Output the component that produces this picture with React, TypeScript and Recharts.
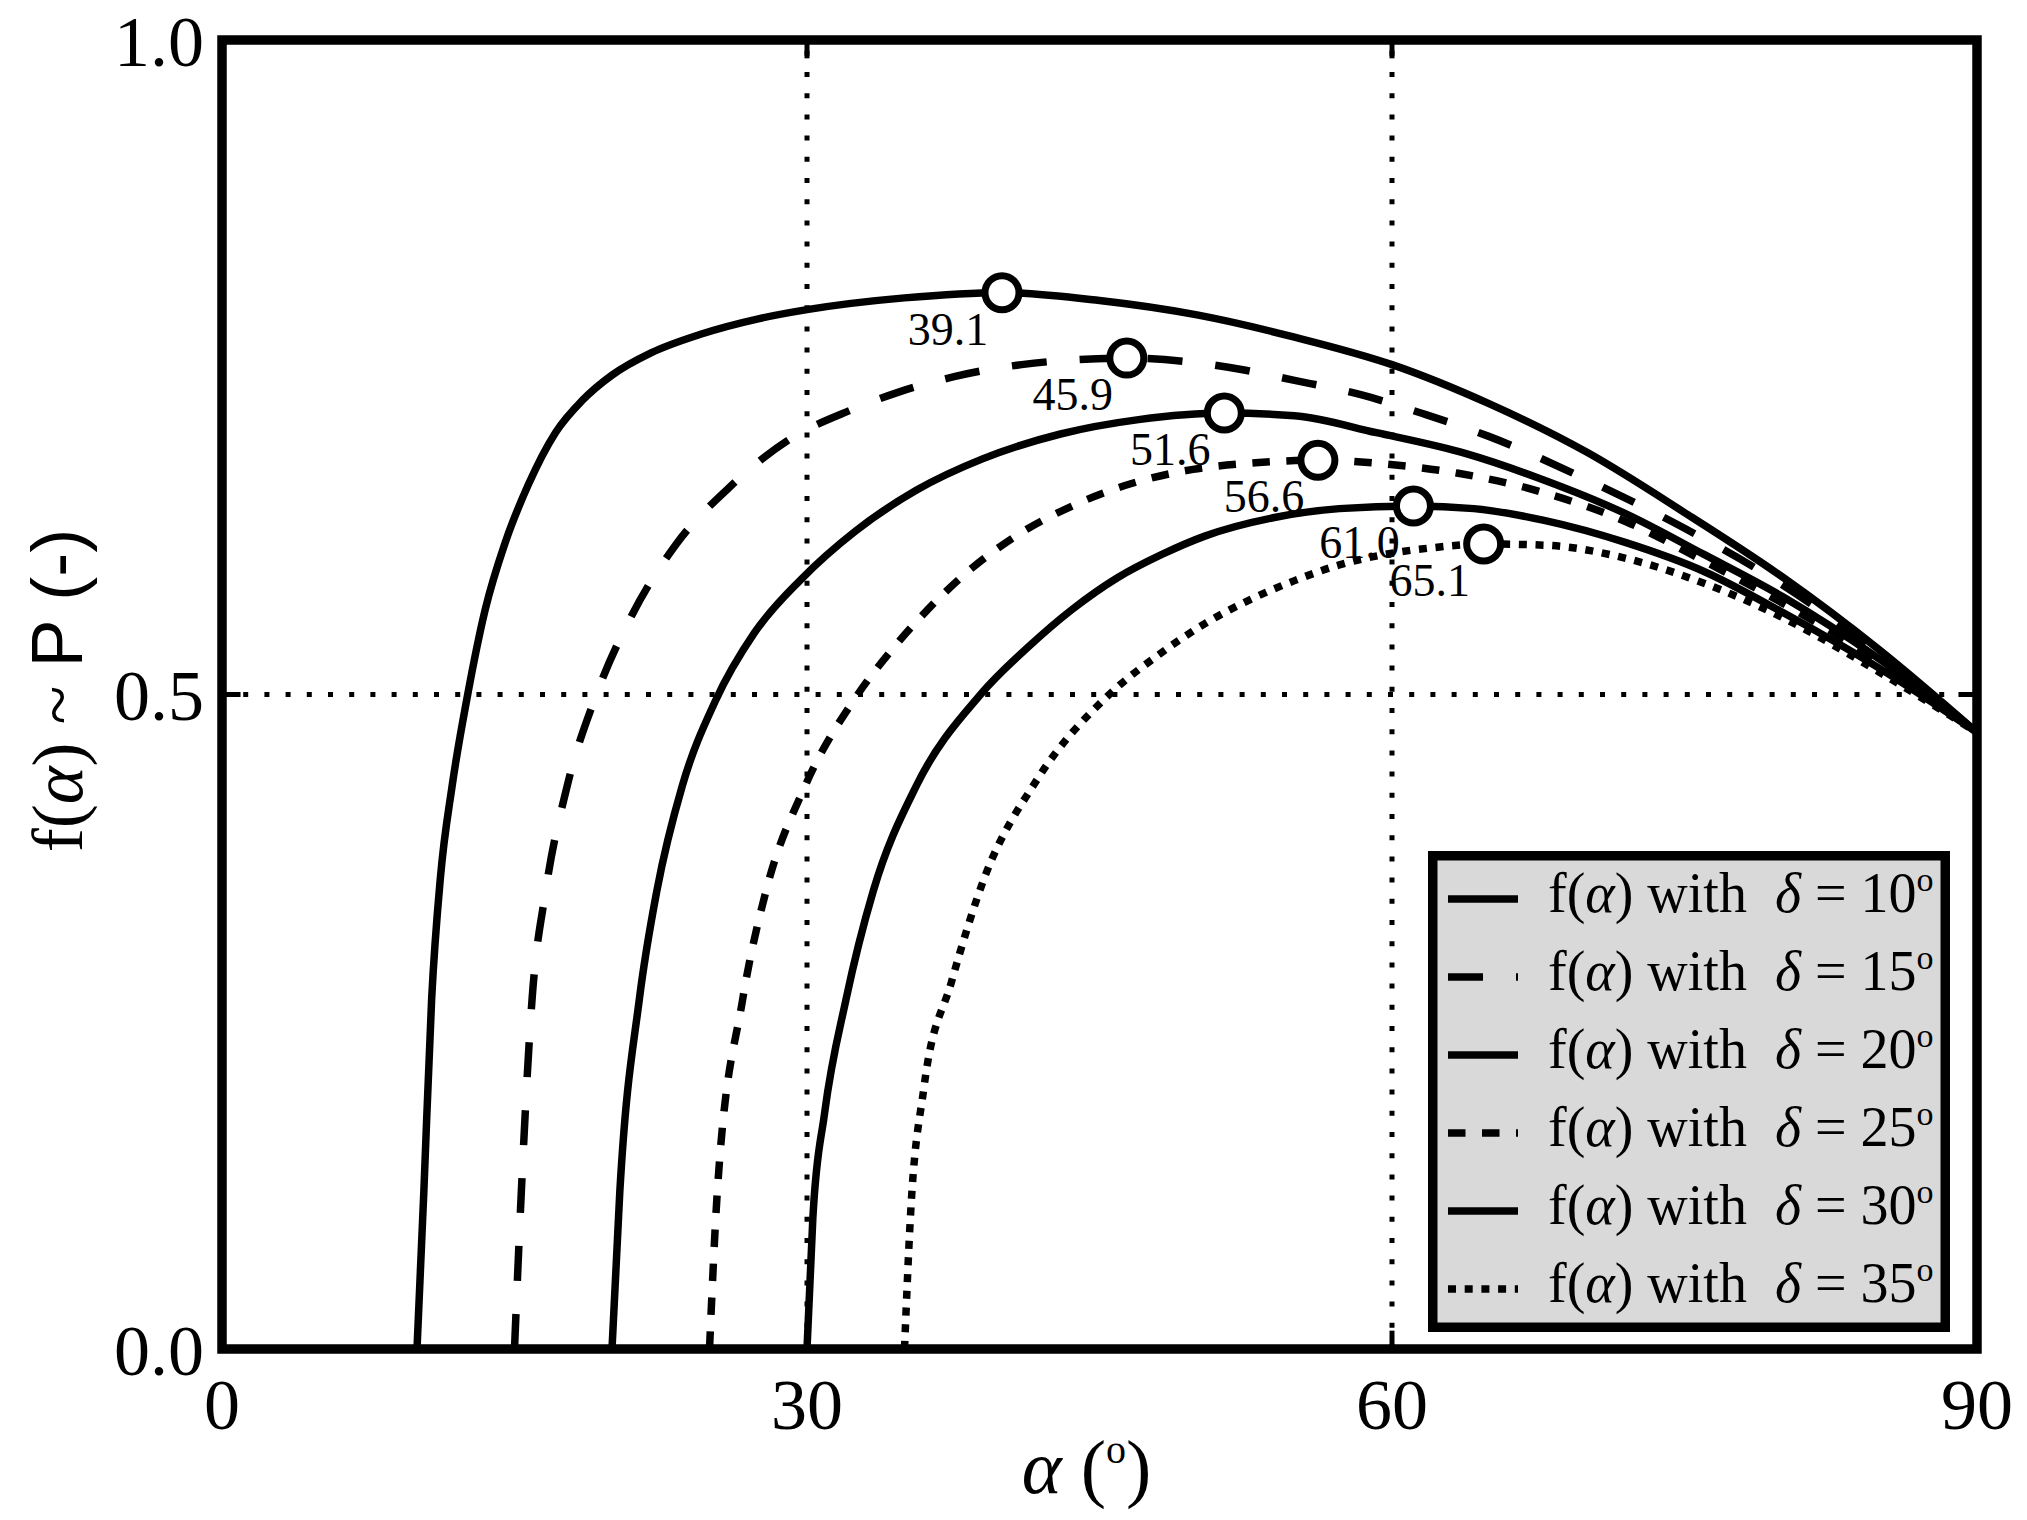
import React from 'react';
import {
  ComposedChart,
  Line,
  Scatter,
  XAxis,
  YAxis,
  ReferenceLine,
  ReferenceArea,
  Legend,
  Label,
} from 'recharts';

const SERIF = '"Liberation Serif", "Times New Roman", serif';
const SANS = '"Liberation Sans", Arial, sans-serif';

// [alpha (deg), f(alpha)], one list per delta
const curve10 = [
  [10, 0], [10.35, 0.12], [10.75, 0.267], [11.2, 0.36], [11.8, 0.43], [12.6, 0.5],
  [13.5, 0.565], [14.5, 0.615], [15.7, 0.66], [17.1, 0.7], [18.5, 0.725], [20, 0.744],
  [22, 0.761], [24.5, 0.775], [27.5, 0.787], [30, 0.794], [35, 0.803], [40, 0.807],
  [45, 0.801], [50, 0.79], [55, 0.773], [60, 0.752], [65, 0.722], [70, 0.685],
  [75, 0.639], [80, 0.59], [85, 0.534], [90, 0.471],
];
const curve15 = [
  [15, 0], [15.35, 0.12], [15.9, 0.267], [16.6, 0.35], [17.7, 0.43], [19.2, 0.5],
  [21, 0.56], [23.3, 0.615], [26, 0.658], [29, 0.694], [32.2, 0.717], [34.7, 0.731],
  [37.6, 0.743], [41, 0.752], [46.4, 0.757], [51.6, 0.75], [55, 0.74], [58.4, 0.729],
  [61.7, 0.714], [65, 0.697], [70, 0.664], [75, 0.627], [80, 0.584], [85, 0.531],
  [90, 0.471],
];
const curve20 = [
  [20, 0], [20.4, 0.12], [21.4, 0.267], [22.3, 0.35], [23.6, 0.43], [25.3, 0.495],
  [27.3, 0.547], [29.7, 0.588], [32.5, 0.625], [35.6, 0.656], [39, 0.68], [43, 0.699],
  [47, 0.71], [51.4, 0.715], [55, 0.713], [59.2, 0.7], [63.8, 0.684], [67.4, 0.666],
  [72, 0.638], [76, 0.607], [80, 0.575], [85, 0.527], [90, 0.471],
];
const curve25 = [
  [25, 0], [25.4, 0.12], [26.7, 0.267], [27.9, 0.35], [29.9, 0.43], [32.6, 0.5],
  [34.4, 0.535], [36.2, 0.565], [38.1, 0.592], [40.6, 0.62], [43.6, 0.644], [46.6, 0.661],
  [49.8, 0.672], [53, 0.677], [56.2, 0.679], [59.7, 0.676], [63.4, 0.669], [67.6, 0.655],
  [72, 0.632], [76, 0.602], [80, 0.57], [85, 0.525], [90, 0.471],
];
const curve30 = [
  [30, 0], [30.3, 0.1], [30.9, 0.18], [32, 0.267], [33.4, 0.35], [35.6, 0.43],
  [38.9, 0.5], [41.4, 0.537], [43.6, 0.565], [45.9, 0.589], [48.2, 0.607], [50.4, 0.621],
  [53.9, 0.635], [57.3, 0.642], [61.1, 0.644], [64.2, 0.642], [67.8, 0.633], [72, 0.616],
  [76, 0.594], [80, 0.563], [85, 0.52], [90, 0.471],
];
const curve35 = [
  [35, 0], [35.3, 0.1], [36, 0.2], [37.4, 0.28], [39.1, 0.36], [41.8, 0.435],
  [45.5, 0.5], [48, 0.53], [50.5, 0.555], [52.8, 0.573], [55, 0.587], [57.3, 0.599],
  [60, 0.608], [62, 0.612], [64.7, 0.615], [67.9, 0.614], [72, 0.604], [76, 0.585],
  [80, 0.559], [85, 0.517], [90, 0.471],
];

const deltas = [10, 15, 20, 25, 30, 35];
const curves = [curve10, curve15, curve20, curve25, curve30, curve35];
const dashes = [undefined, '35 33', undefined, '17.5 16.5', undefined, '8 8.7'];

// maxima marked with circles
const peakAlpha = [40.0, 46.4, 51.4, 56.2, 61.1, 64.7];
const peakValue = [0.807, 0.757, 0.715, 0.679, 0.644, 0.615];
const peakLabels = ['39.1', '45.9', '51.6', '56.6', '61.0', '65.1'];

const xTicks = [0, 30, 60, 90];
const yTicks = [0, 0.5, 1];

const series = curves.map((pts, i) => ({
  key: `d${deltas[i]}`,
  delta: deltas[i],
  dash: dashes[i],
  data: pts.map(([a, f]) => ({ a, f })),
}));

const peaks = peakAlpha.map((a, i) => ({ a, f: peakValue[i], label: peakLabels[i] }));

const LINE_W = 7.5;
const GRID_DASH = '5 16.2';

const PeakMarker = (props: any) => {
  const { cx, cy, payload } = props;
  return (
    <g>
      <circle cx={cx} cy={cy} r={17} fill="#fff" stroke="#000" strokeWidth={7} />
      <text x={cx - 54} y={cy + 52} textAnchor="middle" fontFamily={SERIF} fontSize={46} fill="#000">
        {payload.label}
      </text>
    </g>
  );
};

const XTitle = (props: any) => {
  const { x, y, width } = props.viewBox;
  const cx = x + width / 2 - 13;
  return (
    <text x={cx} y={y + 144} textAnchor="middle" fontFamily={SERIF} fontSize={76} fill="#000">
      <tspan fontStyle="italic">α</tspan>
      <tspan> (</tspan>
      <tspan fontSize={40} dy={-30}>o</tspan>
      <tspan dy={30}>)</tspan>
    </text>
  );
};

const YTitle = (props: any) => {
  const { x, y, height } = props.viewBox;
  const bx = x + 10;
  const cy = y + height / 2 - 4;
  return (
    <text
      x={bx}
      y={cy}
      transform={`rotate(-90 ${bx} ${cy})`}
      textAnchor="middle"
      fontSize={72}
      fill="#000"
      style={{ whiteSpace: 'pre' }}
    >
      <tspan fontFamily={SERIF}>f(</tspan>
      <tspan fontFamily={SERIF} fontStyle="italic">α</tspan>
      <tspan fontFamily={SERIF}>{') ~ '}</tspan>
      <tspan fontFamily={SANS}>P (-)</tspan>
    </text>
  );
};

const LegendBox = () => (
  <svg width={522} height={481} style={{ display: 'block' }}>
    <rect x={4.75} y={4.75} width={512.5} height={471.5} fill="#d9d9d9" stroke="#000" strokeWidth={9.5} />
    {series.map((s, i) => {
      const cy = 48 + 78 * i;
      return (
        <g key={s.key}>
          <line x1={20} x2={90} y1={cy} y2={cy} stroke="#000" strokeWidth={LINE_W} strokeDasharray={s.dash} />
          <text x={120} y={cy + 13} fontFamily={SERIF} fontSize={56} fill="#000" style={{ whiteSpace: 'pre' }}>
            <tspan>f(</tspan>
            <tspan fontStyle="italic">α</tspan>
            <tspan>{') with  '}</tspan>
            <tspan fontStyle="italic">δ</tspan>
            <tspan>{` = ${s.delta}`}</tspan>
            <tspan fontSize={34} dy={-21}>o</tspan>
          </text>
        </g>
      );
    })}
  </svg>
);

// short inward ticks at the inner grid positions
const tickSegments = [
  ...xTicks.slice(1, -1).flatMap((t) => [
    [{ x: t, y: 0 }, { x: t, y: 0.014 }],
    [{ x: t, y: 0.986 }, { x: t, y: 1 }],
  ]),
  ...yTicks.slice(1, -1).flatMap((t) => [
    [{ x: 0, y: t }, { x: 0.95, y: t }],
    [{ x: 89.05, y: t }, { x: 90, y: t }],
  ]),
];

export default function App() {
  return (
    <div style={{ position: 'absolute', left: 0, top: 0, background: '#fff' }}>
      <ComposedChart width={2027} height={1520} margin={{ top: 40, right: 50, left: 72, bottom: 71 }}>
        <XAxis
          type="number"
          dataKey="a"
          domain={[0, 90]}
          ticks={xTicks}
          interval={0}
          tickLine={false}
          axisLine={false}
          tickSize={0}
          tickMargin={29}
          height={100}
          tick={{ fill: '#000', fontSize: 72, fontFamily: SERIF }}
        >
          <Label content={XTitle} />
        </XAxis>
        <YAxis
          type="number"
          domain={[0, 1]}
          ticks={yTicks}
          interval={0}
          tickFormatter={(v: number) => v.toFixed(1)}
          tickLine={false}
          axisLine={false}
          tickSize={0}
          tickMargin={18}
          width={150}
          tick={{ fill: '#000', fontSize: 72, fontFamily: SERIF }}
        >
          <Label content={YTitle} />
        </YAxis>

        {xTicks.slice(1, -1).map((t) => (
          <ReferenceLine key={`gx${t}`} x={t} stroke="#000" strokeWidth={5} strokeDasharray={GRID_DASH} />
        ))}
        {yTicks.slice(1, -1).map((t) => (
          <ReferenceLine key={`gy${t}`} y={t} stroke="#000" strokeWidth={5} strokeDasharray={GRID_DASH} />
        ))}
        {tickSegments.map((seg, i) => (
          <ReferenceLine key={`tk${i}`} segment={seg} stroke="#000" strokeWidth={5} />
        ))}

        {series.map((s) => (
          <Line
            key={s.key}
            data={s.data}
            dataKey="f"
            name={`f(α) with δ = ${s.delta}°`}
            type="monotone"
            stroke="#000"
            strokeWidth={LINE_W}
            strokeDasharray={s.dash}
            dot={false}
            activeDot={false}
            isAnimationActive={false}
          />
        ))}

        <ReferenceArea
          x1={0}
          x2={90}
          y1={0}
          y2={1}
          fill="none"
          fillOpacity={0}
          stroke="#000"
          strokeWidth={9.5}
          ifOverflow="visible"
        />

        <Scatter data={peaks} dataKey="f" shape={PeakMarker} isAnimationActive={false} />

        <Legend
          layout="vertical"
          align="center"
          verticalAlign="middle"
          content={() => <LegendBox />}
          wrapperStyle={{ left: 1428, top: 851, width: 522, height: 481 }}
        />
      </ComposedChart>
    </div>
  );
}
